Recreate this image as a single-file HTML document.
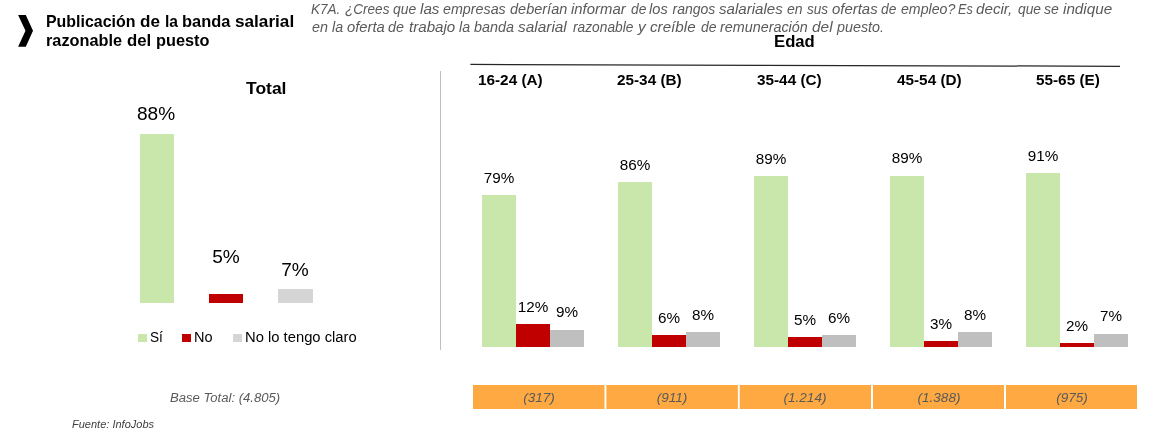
<!DOCTYPE html>
<html lang="es"><head><meta charset="utf-8"><title>Publicación de la banda salarial razonable del puesto</title>
<style>
html,body{margin:0;padding:0;background:#fff}
body{width:1161px;height:436px;position:relative;overflow:hidden;font-family:"Liberation Sans", sans-serif}
h1,p,section{margin:0;padding:0;font:inherit}
.t{position:absolute;white-space:nowrap;line-height:1;margin:0;transform-origin:0 0}
.r{position:absolute}
.s0{font-size:16.5px;font-weight:700;color:#000;}
.s1{font-size:14px;font-weight:400;color:#5a5a5a;font-style:italic;}
.s2{font-size:14px;font-weight:700;color:#000;}
.s3{font-size:18px;font-weight:400;color:#000;width:80px;text-align:center;transform-origin:50% 0;}
.s4{font-size:14px;font-weight:400;color:#000;}
.s5{font-size:12.5px;font-weight:400;color:#5a5a5a;font-style:italic;}
.s6{font-size:10.5px;font-weight:400;color:#404040;font-style:italic;}
.s7{font-size:14px;font-weight:400;color:#000;width:80px;text-align:center;transform-origin:50% 0;}
.s8{font-size:12.5px;font-weight:400;color:#5a5a5a;font-style:italic;width:80px;text-align:center;transform-origin:50% 0;}
</style></head><body>
<div class="bars">
<div class="r" style="left:140px;top:134px;width:34px;height:169px;background:#c9e7ab"></div>
<div class="r" style="left:209px;top:294px;width:34px;height:9px;background:#c00000"></div>
<div class="r" style="left:278px;top:289px;width:35px;height:14px;background:#d5d5d5"></div>
<div class="r" style="left:138px;top:333.5px;width:9px;height:8.5px;background:#c9e7ab"></div>
<div class="r" style="left:182px;top:333.5px;width:9px;height:8.5px;background:#c00000"></div>
<div class="r" style="left:233px;top:333.5px;width:9px;height:8.5px;background:#d5d5d5"></div>
<div class="r" style="left:482px;top:195px;width:34px;height:152px;background:#c9e7ab"></div>
<div class="r" style="left:516px;top:324px;width:34px;height:23px;background:#c00000"></div>
<div class="r" style="left:550px;top:330px;width:34px;height:17px;background:#bfbfbf"></div>
<div class="r" style="left:618px;top:182px;width:34px;height:165px;background:#c9e7ab"></div>
<div class="r" style="left:652px;top:335px;width:34px;height:12px;background:#c00000"></div>
<div class="r" style="left:686px;top:332px;width:34px;height:15px;background:#bfbfbf"></div>
<div class="r" style="left:754px;top:176px;width:34px;height:171px;background:#c9e7ab"></div>
<div class="r" style="left:788px;top:337px;width:34px;height:10px;background:#c00000"></div>
<div class="r" style="left:822px;top:335px;width:34px;height:12px;background:#bfbfbf"></div>
<div class="r" style="left:890px;top:176px;width:34px;height:171px;background:#c9e7ab"></div>
<div class="r" style="left:924px;top:341px;width:34px;height:6px;background:#c00000"></div>
<div class="r" style="left:958px;top:332px;width:34px;height:15px;background:#bfbfbf"></div>
<div class="r" style="left:1026px;top:173px;width:34px;height:174px;background:#c9e7ab"></div>
<div class="r" style="left:1060px;top:343px;width:34px;height:4px;background:#c00000"></div>
<div class="r" style="left:1094px;top:334px;width:34px;height:13px;background:#bfbfbf"></div>
<div class="r" style="left:440px;top:71px;width:1px;height:279px;background:#bfbfbf"></div>
</div>
<svg class="r" style="left:0;top:0" width="1161" height="436" viewBox="0 0 1161 436"><line x1="470.4" y1="64.4" x2="1120" y2="66.3" stroke="#262626" stroke-width="1.25"/><rect x="473" y="385" width="131.5" height="24" fill="#fea942"/><rect x="606.4" y="385" width="131.5" height="24" fill="#fea942"/><rect x="739.7" y="385" width="131.3" height="24" fill="#fea942"/><rect x="873" y="385" width="131" height="24" fill="#fea942"/><rect x="1006" y="385" width="131" height="24" fill="#fea942"/><polygon points="18.1,15 25.8,15 33,30.85 25.8,46.7 18.1,46.7 25.5,30.85" fill="#000"/></svg>
<h1>
<span class="t s0" id="t0" style="left:46.34px;top:13.23px;transform:scaleX(0.9651)">Publicación</span>
<span class="t s0" id="t1" style="left:140.08px;top:13.23px;transform:scaleX(1.0359)">de</span>
<span class="t s0" id="t2" style="left:165.24px;top:13.23px;transform:scaleX(0.9477)">la</span>
<span class="t s0" id="t3" style="left:181.70px;top:13.23px;transform:scaleX(0.9946)">banda</span>
<span class="t s0" id="t4" style="left:234.83px;top:13.23px;transform:scaleX(1.0399)">salarial</span>
<span class="t s0" id="t5" style="left:46.13px;top:32.03px;transform:scaleX(0.9876)">razonable</span>
<span class="t s0" id="t6" style="left:127.30px;top:32.03px;transform:scaleX(1.0163)">del</span>
<span class="t s0" id="t7" style="left:156.10px;top:32.03px;transform:scaleX(0.9883)">puesto</span>
</h1>
<p>
<span class="t s1" id="t8" style="left:311.49px;top:2.35px;transform:scaleX(0.9635)">K7A.</span>
<span class="t s1" id="t9" style="left:345.03px;top:2.35px;transform:scaleX(0.9679)">¿Crees</span>
<span class="t s1" id="t10" style="left:392.71px;top:2.35px;transform:scaleX(0.9908)">que</span>
<span class="t s1" id="t11" style="left:419.56px;top:2.35px;transform:scaleX(1.0873)">las</span>
<span class="t s1" id="t12" style="left:443.48px;top:2.35px;transform:scaleX(1.0205)">empresas</span>
<span class="t s1" id="t13" style="left:510.20px;top:2.35px;transform:scaleX(1.0360)">deberían</span>
<span class="t s1" id="t14" style="left:571.39px;top:2.35px;transform:scaleX(1.0646)">informar</span>
<span class="t s1" id="t15" style="left:630.71px;top:2.35px;transform:scaleX(0.9862)">de</span>
<span class="t s1" id="t16" style="left:649.36px;top:2.35px;transform:scaleX(1.0460)">los</span>
<span class="t s1" id="t17" style="left:672.48px;top:2.35px;">rangos</span>
<span class="t s1" id="t18" style="left:719.35px;top:2.35px;transform:scaleX(1.0772)">salariales</span>
<span class="t s1" id="t19" style="left:787.11px;top:2.35px;transform:scaleX(1.0016)">en</span>
<span class="t s1" id="t20" style="left:807.02px;top:2.35px;transform:scaleX(0.9693)">sus</span>
<span class="t s1" id="t21" style="left:831.63px;top:2.35px;transform:scaleX(1.0663)">ofertas</span>
<span class="t s1" id="t22" style="left:880.91px;top:2.35px;transform:scaleX(0.9862)">de</span>
<span class="t s1" id="t23" style="left:900.69px;top:2.35px;transform:scaleX(1.0105)">empleo?</span>
<span class="t s1" id="t24" style="left:958.14px;top:2.35px;transform:scaleX(0.9000)">Es</span>
<span class="t s1" id="t25" style="left:976.33px;top:2.35px;transform:scaleX(1.0841)">decir,</span>
<span class="t s1" id="t26" style="left:1017.51px;top:2.35px;transform:scaleX(0.9872)">que</span>
<span class="t s1" id="t27" style="left:1044.00px;top:2.35px;transform:scaleX(1.0060)">se</span>
<span class="t s1" id="t28" style="left:1062.93px;top:2.35px;transform:scaleX(1.0895)">indique</span>
<span class="t s1" id="t29" style="left:311.86px;top:19.95px;transform:scaleX(1.0273)">en</span>
<span class="t s1" id="t30" style="left:331.87px;top:19.95px;transform:scaleX(1.0137)">la</span>
<span class="t s1" id="t31" style="left:346.85px;top:19.95px;transform:scaleX(1.0553)">oferta</span>
<span class="t s1" id="t32" style="left:388.42px;top:19.95px;transform:scaleX(1.0273)">de</span>
<span class="t s1" id="t33" style="left:408.91px;top:19.95px;transform:scaleX(1.0813)">trabajo</span>
<span class="t s1" id="t34" style="left:459.47px;top:19.95px;transform:scaleX(1.0137)">la</span>
<span class="t s1" id="t35" style="left:474.30px;top:19.95px;transform:scaleX(1.0250)">banda</span>
<span class="t s1" id="t36" style="left:517.91px;top:19.95px;transform:scaleX(1.1000)">salarial</span>
<span class="t s1" id="t37" style="left:572.87px;top:19.95px;transform:scaleX(0.9818)">razonable</span>
<span class="t s1" id="t38" style="left:638.29px;top:19.95px;transform:scaleX(1.1000)">y</span>
<span class="t s1" id="t39" style="left:650.36px;top:19.95px;transform:scaleX(1.0845)">creíble</span>
<span class="t s1" id="t40" style="left:700.69px;top:19.95px;transform:scaleX(0.9965)">de</span>
<span class="t s1" id="t41" style="left:720.21px;top:19.95px;transform:scaleX(1.0246)">remuneración</span>
<span class="t s1" id="t42" style="left:811.92px;top:19.95px;transform:scaleX(1.1000)">del</span>
<span class="t s1" id="t43" style="left:836.91px;top:19.95px;transform:scaleX(1.0229)">puesto.</span>
</p>
<div class="t s0" id="t44" style="left:774.49px;top:32.83px;transform:scaleX(1.0113)">Edad</div>
<div class="t s0" id="t45" style="left:245.88px;top:80.03px;transform:scaleX(1.0598)">Total</div>
<div class="t s2" id="t46" style="left:478.09px;top:73.15px;transform:scaleX(1.0932)">16-24 (A)</div>
<div class="t s2" id="t47" style="left:617.16px;top:73.15px;transform:scaleX(1.0932)">25-34 (B)</div>
<div class="t s2" id="t48" style="left:756.95px;top:73.15px;transform:scaleX(1.0932)">35-44 (C)</div>
<div class="t s2" id="t49" style="left:896.55px;top:73.15px;transform:scaleX(1.0932)">45-54 (D)</div>
<div class="t s2" id="t50" style="left:1036.28px;top:73.15px;transform:scaleX(1.0932)">55-65 (E)</div>
<div class="t s3" id="t51" style="left:116.30px;top:104.76px;transform:scaleX(1.0600)">88%</div>
<div class="t s3" id="t52" style="left:186.00px;top:247.76px;transform:scaleX(1.0600)">5%</div>
<div class="t s3" id="t53" style="left:254.80px;top:260.76px;transform:scaleX(1.0600)">7%</div>
<div class="t s4" id="t54" style="left:149.92px;top:330.15px;transform:scaleX(0.9719)">Sí</div>
<div class="t s4" id="t55" style="left:193.96px;top:330.15px;transform:scaleX(1.0383)">No</div>
<div class="t s4" id="t56" style="left:244.94px;top:330.15px;transform:scaleX(1.0555)">No lo tengo claro</div>
<div class="t s5" id="t57" style="left:169.69px;top:392.22px;transform:scaleX(1.0476)">Base Total: (4.805)</div>
<div class="t s6" id="t58" style="left:71.68px;top:419.11px;transform:scaleX(1.0487)">Fuente: InfoJobs</div>
<div class="t s7" id="t59" style="left:459.05px;top:171.15px;transform:scaleX(1.0900)">79%</div>
<div class="t s7" id="t60" style="left:493.00px;top:300.15px;transform:scaleX(1.0900)">12%</div>
<div class="t s7" id="t61" style="left:527.40px;top:305.15px;transform:scaleX(1.0900)">9%</div>
<div class="t s7" id="t62" style="left:595.00px;top:158.15px;transform:scaleX(1.0900)">86%</div>
<div class="t s7" id="t63" style="left:629.00px;top:311.15px;transform:scaleX(1.0900)">6%</div>
<div class="t s7" id="t64" style="left:663.00px;top:308.15px;transform:scaleX(1.0900)">8%</div>
<div class="t s7" id="t65" style="left:731.00px;top:152.15px;transform:scaleX(1.0900)">89%</div>
<div class="t s7" id="t66" style="left:765.00px;top:313.15px;transform:scaleX(1.0900)">5%</div>
<div class="t s7" id="t67" style="left:799.00px;top:311.15px;transform:scaleX(1.0900)">6%</div>
<div class="t s7" id="t68" style="left:867.00px;top:151.15px;transform:scaleX(1.0900)">89%</div>
<div class="t s7" id="t69" style="left:901.00px;top:317.15px;transform:scaleX(1.0900)">3%</div>
<div class="t s7" id="t70" style="left:935.00px;top:308.15px;transform:scaleX(1.0900)">8%</div>
<div class="t s7" id="t71" style="left:1003.00px;top:149.15px;transform:scaleX(1.0900)">91%</div>
<div class="t s7" id="t72" style="left:1037.00px;top:319.15px;transform:scaleX(1.0900)">2%</div>
<div class="t s7" id="t73" style="left:1071.00px;top:309.15px;transform:scaleX(1.0900)">7%</div>
<div class="t s8" id="t74" style="left:498.85px;top:392.42px;transform:scaleX(1.0850)">(317)</div>
<div class="t s8" id="t75" style="left:632.25px;top:392.42px;transform:scaleX(1.0850)">(911)</div>
<div class="t s8" id="t76" style="left:765.45px;top:392.42px;transform:scaleX(1.0850)">(1.214)</div>
<div class="t s8" id="t77" style="left:898.60px;top:392.42px;transform:scaleX(1.0850)">(1.388)</div>
<div class="t s8" id="t78" style="left:1031.60px;top:392.42px;transform:scaleX(1.0850)">(975)</div>
</body></html>
